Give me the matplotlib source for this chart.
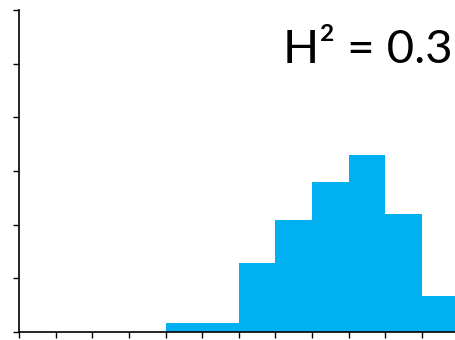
import matplotlib.pyplot as plt

# histogram bins (bin index of left edge) and heights in y-tick units
bin_edges = [4, 5, 6, 7, 8, 9, 10, 11]
counts = [0.17, 0.17, 1.28, 2.08, 2.79, 3.30, 2.20, 0.68]
label = "H² = 0.3"

fig = plt.figure(figsize=(4.56, 3.4), dpi=100)
ax = fig.add_axes([19 / 456, 8 / 340, 437 / 456, 322 / 340])

ax.bar(bin_edges, counts, width=1.0, align="edge", color="#00B0F0",
       edgecolor="none", linewidth=0)

ax.set_xlim(0, 11.93)
ax.set_ylim(0, 6)
ax.set_xticks(range(0, 12))
ax.set_yticks(range(0, 7))
ax.set_xticklabels([])
ax.set_yticklabels([])

for side in ("top", "right"):
    ax.spines[side].set_visible(False)
for side in ("left", "bottom"):
    ax.spines[side].set_linewidth(1.2)
    ax.spines[side].set_color("black")
ax.tick_params(axis="y", direction="out", length=4.5, width=1)
ax.tick_params(axis="x", direction="out", length=4.5, width=1)

fig.text(0.993, 0.815, label, ha="right", va="baseline",
         fontsize=34, family="Lato", color="black")

fig.savefig("out.png", dpi=100)
